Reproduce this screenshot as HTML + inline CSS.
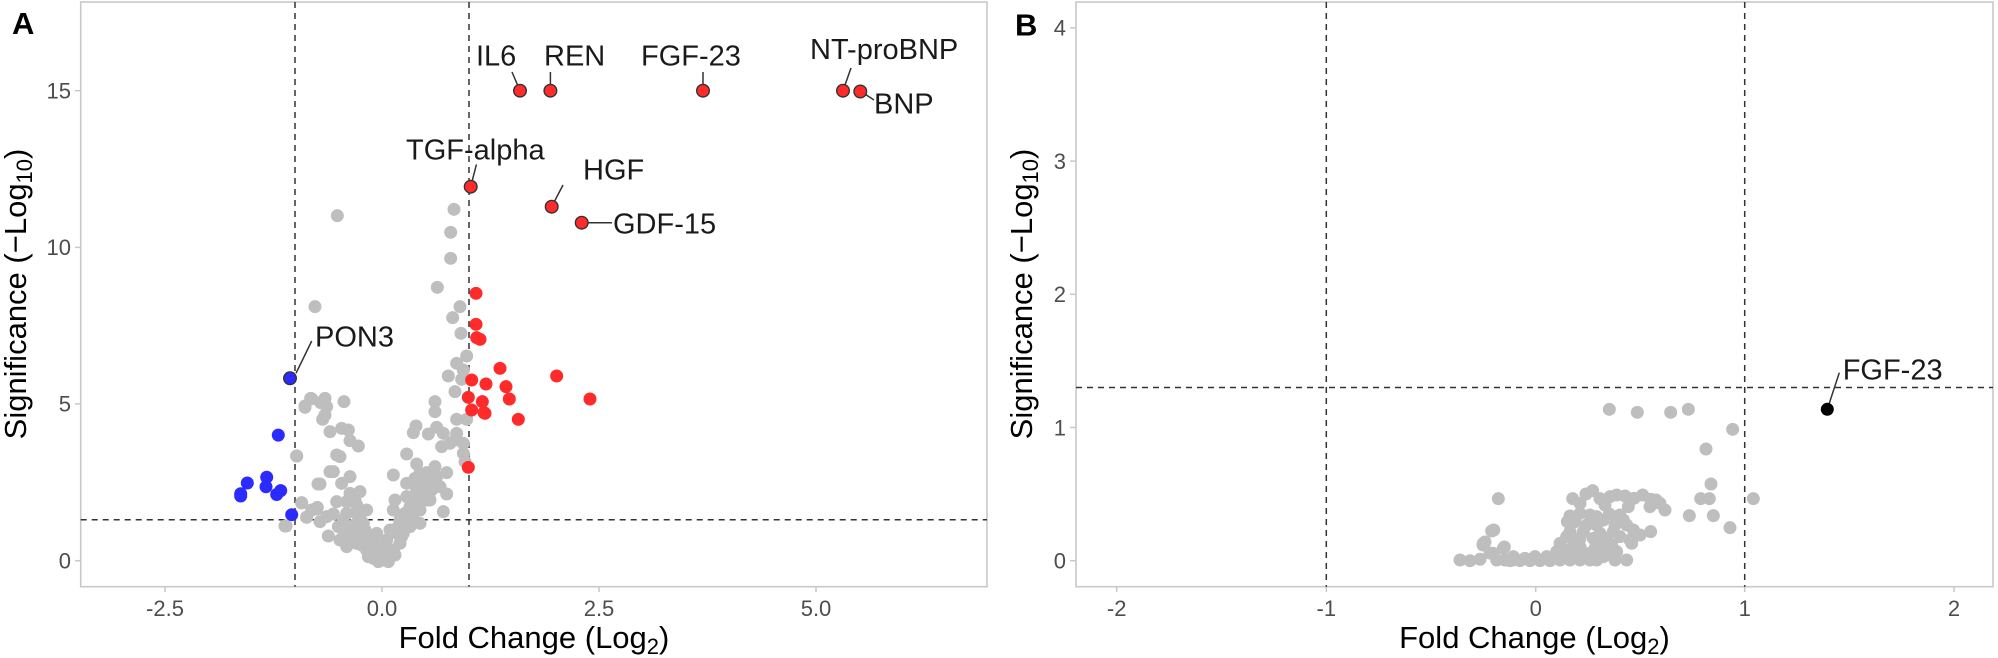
<!DOCTYPE html>
<html><head><meta charset="utf-8"><style>
html,body{margin:0;padding:0;background:#fff}
svg{display:block}
text{font-family:"Liberation Sans",Arial,sans-serif}
.tk{font-size:22px;fill:#4d4d4d}
.ti{font-size:31px;fill:#000}
.lb{font-size:29px;fill:#1a1a1a}
.g circle{fill:#bebebe}
</style></head><body>
<svg width="1998" height="658" viewBox="0 0 1998 658" xmlns="http://www.w3.org/2000/svg">
<rect x="0" y="0" width="1998" height="658" fill="#fff"/>
<rect x="80.7" y="2" width="906.3" height="584.7" fill="none" stroke="#c8c8c8" stroke-width="1.6"/>
<g stroke="#c8c8c8" stroke-width="1.5">
<line x1="165" y1="586.7" x2="165" y2="592"/><line x1="382" y1="586.7" x2="382" y2="592"/><line x1="599" y1="586.7" x2="599" y2="592"/><line x1="816" y1="586.7" x2="816" y2="592"/>
<line x1="75" y1="560.7" x2="80.7" y2="560.7"/><line x1="75" y1="403.9" x2="80.7" y2="403.9"/><line x1="75" y1="247.4" x2="80.7" y2="247.4"/><line x1="75" y1="90.7" x2="80.7" y2="90.7"/>
</g>
<g class="tk" text-anchor="middle">
<text x="165" y="616">-2.5</text><text x="382" y="616">0.0</text><text x="599" y="616">2.5</text><text x="816" y="616">5.0</text>
</g>
<g class="tk" text-anchor="end">
<text x="71" y="568.5">0</text><text x="71" y="411.7">5</text><text x="71" y="255.2">10</text><text x="71" y="98.5">15</text>
</g>
<text class="ti" x="534" y="648" text-anchor="middle">Fold Change (Log<tspan font-size="22" dy="6">2</tspan><tspan dy="-6">)</tspan></text>
<text class="ti" transform="translate(26,294) rotate(-90)" text-anchor="middle">Significance (−Log<tspan font-size="22" dy="6">10</tspan><tspan dy="-6">)</tspan></text>
<text x="12" y="34" font-size="31" font-weight="bold" fill="#000">A</text>
<g stroke="#333" stroke-width="1.5" stroke-dasharray="6,5" fill="none">
<line x1="295" y1="2" x2="295" y2="586.7"/><line x1="469" y1="2" x2="469" y2="586.7"/>
<line x1="80.7" y1="519.7" x2="987" y2="519.7"/>
</g>
<g class="g" transform="translate(280,180) scale(0.33333)">
<circle cx="172" cy="107" r="19.5"/><circle cx="522" cy="88" r="19.5"/><circle cx="512" cy="157" r="19.5"/><circle cx="512" cy="235" r="19.5"/><circle cx="472" cy="322" r="19.5"/><circle cx="105" cy="380" r="19.5"/><circle cx="540" cy="380" r="19.5"/><circle cx="518" cy="413" r="19.5"/><circle cx="543" cy="460" r="19.5"/><circle cx="560" cy="528" r="19.5"/><circle cx="530" cy="550" r="19.5"/><circle cx="550" cy="570" r="19.5"/><circle cx="505" cy="588" r="19.5"/><circle cx="545" cy="598" r="19.5"/><circle cx="525" cy="635" r="19.5"/><circle cx="92" cy="655" r="19.5"/><circle cx="75" cy="682" r="19.5"/><circle cx="122" cy="668" r="19.5"/><circle cx="135" cy="655" r="19.5"/><circle cx="140" cy="680" r="19.5"/><circle cx="192" cy="665" r="19.5"/><circle cx="128" cy="718" r="19.5"/><circle cx="135" cy="705" r="19.5"/><circle cx="465" cy="665" r="19.5"/><circle cx="465" cy="695" r="19.5"/><circle cx="530" cy="718" r="19.5"/><circle cx="560" cy="718" r="19.5"/><circle cx="408" cy="738" r="19.5"/><circle cx="400" cy="758" r="19.5"/><circle cx="445" cy="762" r="19.5"/><circle cx="470" cy="742" r="19.5"/><circle cx="490" cy="760" r="19.5"/><circle cx="530" cy="760" r="19.5"/><circle cx="150" cy="755" r="19.5"/><circle cx="185" cy="745" r="19.5"/><circle cx="205" cy="750" r="19.5"/><circle cx="210" cy="782" r="19.5"/><circle cx="235" cy="798" r="19.5"/><circle cx="485" cy="800" r="19.5"/><circle cx="510" cy="790" r="19.5"/><circle cx="525" cy="780" r="19.5"/><circle cx="550" cy="790" r="19.5"/><circle cx="550" cy="820" r="19.5"/><circle cx="50" cy="828" r="19.5"/><circle cx="170" cy="825" r="19.5"/><circle cx="180" cy="830" r="19.5"/><circle cx="380" cy="822" r="19.5"/><circle cx="410" cy="852" r="19.5"/><circle cx="555" cy="845" r="19.5"/><circle cx="150" cy="875" r="19.5"/><circle cx="160" cy="875" r="19.5"/><circle cx="340" cy="885" r="19.5"/><circle cx="465" cy="860" r="19.5"/><circle cx="440" cy="878" r="19.5"/><circle cx="500" cy="878" r="19.5"/><circle cx="210" cy="890" r="19.5"/><circle cx="120" cy="912" r="19.5"/><circle cx="185" cy="910" r="19.5"/><circle cx="380" cy="910" r="19.5"/><circle cx="405" cy="895" r="19.5"/><circle cx="425" cy="900" r="19.5"/><circle cx="455" cy="905" r="19.5"/><circle cx="480" cy="920" r="19.5"/><circle cx="500" cy="942" r="19.5"/><circle cx="65" cy="968" r="19.5"/><circle cx="112" cy="982" r="19.5"/><circle cx="170" cy="965" r="19.5"/><circle cx="210" cy="940" r="19.5"/><circle cx="240" cy="935" r="19.5"/><circle cx="225" cy="960" r="19.5"/><circle cx="345" cy="960" r="19.5"/><circle cx="380" cy="950" r="19.5"/><circle cx="400" cy="960" r="19.5"/><circle cx="430" cy="940" r="19.5"/><circle cx="450" cy="960" r="19.5"/><circle cx="490" cy="995" r="19.5"/><circle cx="80" cy="1012" r="19.5"/><circle cx="160" cy="1002" r="19.5"/><circle cx="200" cy="1000" r="19.5"/><circle cx="240" cy="1010" r="19.5"/><circle cx="260" cy="990" r="19.5"/><circle cx="340" cy="990" r="19.5"/><circle cx="360" cy="1020" r="19.5"/><circle cx="395" cy="1010" r="19.5"/><circle cx="420" cy="1030" r="19.5"/><circle cx="15" cy="1038" r="19.5"/><circle cx="120" cy="1025" r="19.5"/><circle cx="145" cy="1068" r="19.5"/><circle cx="185" cy="1045" r="19.5"/><circle cx="220" cy="1040" r="19.5"/><circle cx="255" cy="1050" r="19.5"/><circle cx="290" cy="1060" r="19.5"/><circle cx="330" cy="1050" r="19.5"/><circle cx="370" cy="1060" r="19.5"/><circle cx="200" cy="1100" r="19.5"/><circle cx="230" cy="1090" r="19.5"/><circle cx="260" cy="1110" r="19.5"/><circle cx="290" cy="1130" r="19.5"/><circle cx="310" cy="1140" r="19.5"/><circle cx="340" cy="1110" r="19.5"/><circle cx="360" cy="1090" r="19.5"/><circle cx="320" cy="1080" r="19.5"/><circle cx="270" cy="1070" r="19.5"/><circle cx="240" cy="1070" r="19.5"/><circle cx="210" cy="1075" r="19.5"/><circle cx="180" cy="1080" r="19.5"/><circle cx="300" cy="1100" r="19.5"/><circle cx="330" cy="1130" r="19.5"/><circle cx="350" cy="1060" r="19.5"/><circle cx="390" cy="1040" r="19.5"/><circle cx="420" cy="990" r="19.5"/><circle cx="440" cy="960" r="19.5"/><circle cx="455" cy="930" r="19.5"/><circle cx="435" cy="915" r="19.5"/><circle cx="390" cy="980" r="19.5"/><circle cx="375" cy="1000" r="19.5"/><circle cx="300" cy="1120" r="19.5"/><circle cx="280" cy="1135" r="19.5"/><circle cx="250" cy="1030" r="19.5"/><circle cx="275" cy="1100" r="19.5"/><circle cx="320" cy="1110" r="19.5"/><circle cx="410" cy="930" r="19.5"/><circle cx="230" cy="1000" r="19.5"/>
<circle cx="190" cy="1020" r="19.5"/><circle cx="215" cy="1055" r="19.5"/><circle cx="245" cy="1095" r="19.5"/><circle cx="265" cy="1130" r="19.5"/><circle cx="295" cy="1145" r="19.5"/><circle cx="325" cy="1145" r="19.5"/><circle cx="345" cy="1125" r="19.5"/><circle cx="365" cy="1070" r="19.5"/><circle cx="385" cy="1025" r="19.5"/><circle cx="405" cy="985" r="19.5"/><circle cx="425" cy="960" r="19.5"/><circle cx="445" cy="935" r="19.5"/><circle cx="200" cy="1060" r="19.5"/><circle cx="175" cy="1040" r="19.5"/><circle cx="230" cy="1030" r="19.5"/><circle cx="280" cy="1080" r="19.5"/><circle cx="310" cy="1095" r="19.5"/><circle cx="355" cy="1040" r="19.5"/><circle cx="400" cy="1000" r="19.5"/><circle cx="230" cy="975" r="19.5"/><circle cx="200" cy="965" r="19.5"/><circle cx="420" cy="880" r="19.5"/><circle cx="470" cy="890" r="19.5"/><circle cx="95" cy="990" r="19.5"/><circle cx="140" cy="1010" r="19.5"/>
</g>
<g fill="#bebebe">
<circle cx="296.7" cy="456" r="6.5"/><circle cx="301.7" cy="503" r="6.5"/><circle cx="306.7" cy="517" r="6.5"/><circle cx="316.7" cy="509" r="6.5"/><circle cx="286" cy="526" r="6.5"/><circle cx="318" cy="484" r="6.5"/><circle cx="305" cy="406" r="6.5"/><circle cx="311.7" cy="398.8" r="6.5"/>
</g>
<g fill="#ff2b2b" transform="translate(280,180) scale(0.33333)">
<circle cx="588" cy="340" r="19.5"/><circle cx="588" cy="433" r="19.5"/><circle cx="590" cy="473" r="19.5"/><circle cx="600" cy="478" r="19.5"/><circle cx="660" cy="565" r="19.5"/><circle cx="830" cy="588" r="19.5"/><circle cx="575" cy="600" r="19.5"/><circle cx="618" cy="612" r="19.5"/><circle cx="678" cy="620" r="19.5"/><circle cx="930" cy="657" r="19.5"/><circle cx="565" cy="652" r="19.5"/><circle cx="607" cy="665" r="19.5"/><circle cx="688" cy="657" r="19.5"/><circle cx="575" cy="690" r="19.5"/><circle cx="612" cy="698" r="19.5"/><circle cx="615" cy="700" r="19.5"/><circle cx="715" cy="718" r="19.5"/><circle cx="565" cy="862" r="19.5"/>
</g>
<g fill="#2b2bff">
<circle cx="278.3" cy="435.1" r="6.5"/><circle cx="247.3" cy="483" r="6.5"/><circle cx="240.7" cy="493.7" r="6.5"/><circle cx="240.7" cy="496" r="6.5"/><circle cx="266.7" cy="477.2" r="6.5"/><circle cx="266" cy="486.8" r="6.5"/><circle cx="276.7" cy="494.5" r="6.5"/><circle cx="280.7" cy="490.6" r="6.5"/><circle cx="291.7" cy="514.7" r="6.5"/>
</g>
<g stroke="#333" stroke-width="1.5" fill="none">
<line x1="296" y1="373.3" x2="311.7" y2="341"/>
<line x1="470.7" y1="186.7" x2="476.4" y2="164.5"/>
<line x1="551.7" y1="206.7" x2="563" y2="185"/>
<line x1="581.7" y1="222.7" x2="612" y2="222.7"/>
<line x1="520" y1="90.7" x2="512" y2="72"/>
<line x1="550.4" y1="90.7" x2="550.4" y2="72"/>
<line x1="703" y1="90.7" x2="703" y2="72"/>
<line x1="843" y1="90.7" x2="851" y2="68"/>
<line x1="860.3" y1="91" x2="874" y2="100"/>
</g>
<g fill="#ff2b2b" stroke="#333" stroke-width="1.4">
<circle cx="470.7" cy="186.7" r="6.3"/><circle cx="551.7" cy="206.7" r="6.3"/><circle cx="581.7" cy="222.7" r="6.3"/>
<circle cx="520" cy="90.7" r="6.3"/><circle cx="550.4" cy="90.7" r="6.3"/><circle cx="703" cy="90.7" r="6.3"/><circle cx="843" cy="90.7" r="6.3"/><circle cx="860.3" cy="91.5" r="6.3"/>
</g>
<circle cx="290" cy="378.3" r="6.3" fill="#2b2bff" stroke="#333" stroke-width="1.4"/>
<g class="lb">
<text x="315" y="346.7">PON3</text>
<text x="406" y="159.4">TGF-alpha</text>
<text x="583" y="179.7">HGF</text>
<text x="613" y="233.3">GDF-15</text>
<text x="476" y="65.4">IL6</text>
<text x="544" y="65.4">REN</text>
<text x="641" y="65.4">FGF-23</text>
<text x="810" y="59">NT-proBNP</text>
<text x="874" y="113.7">BNP</text>
</g>

<rect x="1076" y="2" width="917" height="584.7" fill="none" stroke="#c8c8c8" stroke-width="1.6"/>
<g stroke="#c8c8c8" stroke-width="1.5">
<line x1="1116.7" y1="586.7" x2="1116.7" y2="592"/><line x1="1326.3" y1="586.7" x2="1326.3" y2="592"/><line x1="1535.7" y1="586.7" x2="1535.7" y2="592"/><line x1="1744.7" y1="586.7" x2="1744.7" y2="592"/><line x1="1954" y1="586.7" x2="1954" y2="592"/>
<line x1="1070" y1="560.7" x2="1076" y2="560.7"/><line x1="1070" y1="427.5" x2="1076" y2="427.5"/><line x1="1070" y1="294.3" x2="1076" y2="294.3"/><line x1="1070" y1="161.1" x2="1076" y2="161.1"/><line x1="1070" y1="27.9" x2="1076" y2="27.9"/>
</g>
<g class="tk" text-anchor="middle">
<text x="1116.7" y="616">-2</text><text x="1326.3" y="616">-1</text><text x="1535.7" y="616">0</text><text x="1744.7" y="616">1</text><text x="1954" y="616">2</text>
</g>
<g class="tk" text-anchor="end">
<text x="1066" y="568.5">0</text><text x="1066" y="435.3">1</text><text x="1066" y="302.1">2</text><text x="1066" y="168.9">3</text><text x="1066" y="35.7">4</text>
</g>
<text class="ti" x="1534.5" y="648" text-anchor="middle">Fold Change (Log<tspan font-size="22" dy="6">2</tspan><tspan dy="-6">)</tspan></text>
<text class="ti" transform="translate(1032,294) rotate(-90)" text-anchor="middle">Significance (−Log<tspan font-size="22" dy="6">10</tspan><tspan dy="-6">)</tspan></text>
<text x="1015" y="35.6" font-size="31" font-weight="bold" fill="#000">B</text>
<g stroke="#333" stroke-width="1.5" stroke-dasharray="6,5" fill="none">
<line x1="1326.3" y1="2" x2="1326.3" y2="586.7"/><line x1="1744.7" y1="2" x2="1744.7" y2="586.7"/>
<line x1="1076" y1="387.5" x2="1993" y2="387.5"/>
</g>
<g class="g" transform="translate(1480,340) scale(0.33333)">
<circle cx="388" cy="208" r="19.5"/><circle cx="472" cy="217" r="19.5"/><circle cx="572" cy="217" r="19.5"/><circle cx="625" cy="208" r="19.5"/><circle cx="758" cy="268" r="19.5"/><circle cx="678" cy="327" r="19.5"/><circle cx="693" cy="432" r="19.5"/><circle cx="55" cy="476" r="19.5"/><circle cx="662" cy="476" r="19.5"/><circle cx="688" cy="476" r="19.5"/><circle cx="820" cy="476" r="19.5"/><circle cx="628" cy="527" r="19.5"/><circle cx="700" cy="527" r="19.5"/><circle cx="750" cy="563" r="19.5"/><circle cx="35" cy="573" r="19.5"/><circle cx="10" cy="610" r="19.5"/><circle cx="70" cy="625" r="19.5"/><circle cx="40" cy="640" r="19.5"/><circle cx="278" cy="476" r="19.5"/><circle cx="318" cy="462" r="19.5"/><circle cx="338" cy="452" r="19.5"/><circle cx="360" cy="476" r="19.5"/><circle cx="390" cy="470" r="19.5"/><circle cx="410" cy="465" r="19.5"/><circle cx="435" cy="468" r="19.5"/><circle cx="462" cy="475" r="19.5"/><circle cx="488" cy="465" r="19.5"/><circle cx="512" cy="478" r="19.5"/><circle cx="528" cy="480" r="19.5"/><circle cx="540" cy="490" r="19.5"/><circle cx="555" cy="510" r="19.5"/><circle cx="510" cy="500" r="19.5"/><circle cx="270" cy="528" r="19.5"/><circle cx="300" cy="520" r="19.5"/><circle cx="330" cy="525" r="19.5"/><circle cx="350" cy="530" r="19.5"/><circle cx="388" cy="522" r="19.5"/><circle cx="408" cy="530" r="19.5"/><circle cx="420" cy="525" r="19.5"/><circle cx="262" cy="545" r="19.5"/><circle cx="320" cy="555" r="19.5"/><circle cx="350" cy="555" r="19.5"/><circle cx="405" cy="555" r="19.5"/><circle cx="440" cy="555" r="19.5"/><circle cx="460" cy="570" r="19.5"/><circle cx="260" cy="590" r="19.5"/><circle cx="300" cy="595" r="19.5"/><circle cx="340" cy="595" r="19.5"/><circle cx="380" cy="595" r="19.5"/><circle cx="420" cy="590" r="19.5"/><circle cx="450" cy="600" r="19.5"/><circle cx="480" cy="585" r="19.5"/><circle cx="512" cy="575" r="19.5"/><circle cx="240" cy="610" r="19.5"/><circle cx="300" cy="620" r="19.5"/><circle cx="380" cy="630" r="19.5"/><circle cx="455" cy="610" r="19.5"/><circle cx="90" cy="662" r="19.5"/><circle cx="120" cy="662" r="19.5"/><circle cx="150" cy="662" r="19.5"/><circle cx="180" cy="662" r="19.5"/><circle cx="210" cy="662" r="19.5"/><circle cx="240" cy="660" r="19.5"/><circle cx="270" cy="660" r="19.5"/><circle cx="300" cy="660" r="19.5"/><circle cx="330" cy="660" r="19.5"/><circle cx="350" cy="660" r="19.5"/><circle cx="405" cy="660" r="19.5"/><circle cx="440" cy="660" r="19.5"/><circle cx="230" cy="635" r="19.5"/><circle cx="260" cy="630" r="19.5"/><circle cx="290" cy="640" r="19.5"/><circle cx="330" cy="640" r="19.5"/><circle cx="410" cy="635" r="19.5"/><circle cx="280" cy="600" r="19.5"/><circle cx="360" cy="610" r="19.5"/><circle cx="200" cy="650" r="19.5"/>
<circle cx="100" cy="650" r="19.5"/><circle cx="135" cy="655" r="19.5"/><circle cx="165" cy="650" r="19.5"/><circle cx="225" cy="650" r="19.5"/><circle cx="255" cy="645" r="19.5"/><circle cx="285" cy="625" r="19.5"/><circle cx="315" cy="640" r="19.5"/><circle cx="345" cy="625" r="19.5"/><circle cx="370" cy="650" r="19.5"/><circle cx="395" cy="615" r="19.5"/><circle cx="270" cy="575" r="19.5"/><circle cx="310" cy="575" r="19.5"/><circle cx="360" cy="580" r="19.5"/><circle cx="400" cy="575" r="19.5"/><circle cx="285" cy="545" r="19.5"/><circle cx="370" cy="540" r="19.5"/><circle cx="430" cy="540" r="19.5"/><circle cx="300" cy="490" r="19.5"/><circle cx="375" cy="495" r="19.5"/><circle cx="445" cy="500" r="19.5"/>
</g>
<g fill="#bebebe">
<circle cx="1460" cy="560" r="6.5"/><circle cx="1470" cy="560.7" r="6.5"/><circle cx="1480" cy="559.3" r="6.5"/><circle cx="1483" cy="545" r="6.5"/><circle cx="1490" cy="553" r="6.5"/><circle cx="1496.7" cy="560" r="6.5"/><circle cx="1493.8" cy="530" r="6.5"/><circle cx="1485" cy="542" r="6.5"/><circle cx="1504.3" cy="547" r="6.5"/><circle cx="1505" cy="560" r="6.5"/><circle cx="1513" cy="560" r="6.5"/>
</g>
<line x1="1827.3" y1="409.3" x2="1839.3" y2="372.7" stroke="#333" stroke-width="1.5"/>
<circle cx="1827.3" cy="409.3" r="6.5" fill="#000"/>
<text class="lb" x="1842.7" y="379.3">FGF-23</text>
</svg>
</body></html>
